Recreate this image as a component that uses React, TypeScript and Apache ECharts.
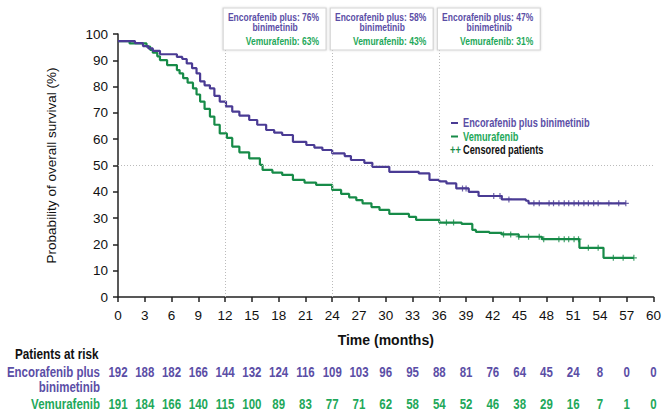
import React, { useEffect, useRef } from "react";
import * as echarts from "echarts";

const PURPLE_LINE = "#4a3b94";
const PURPLE_TEXT = "#5b4ea6";
const GREEN_LINE = "#178b48";
const GREEN_TEXT = "#1ea85a";
const FONT = "'Liberation Sans', Arial, sans-serif";

// Kaplan-Meier steps [month, survival %]
const encoSteps: [number, number][] = [
  [0, 97.3], [1.9, 96.5], [2.8, 95.4], [3.4, 94.5], [3.9, 93.6], [4.7, 92.3], [6.6, 91.3],
  [7.2, 90.5], [7.7, 88.8], [8.3, 87], [8.8, 85], [9.2, 82], [9.7, 80.5], [10.3, 79.3],
  [10.8, 76.5], [11.4, 74.3], [12.1, 72.5], [12.8, 70.5], [13.6, 69], [14.7, 67.3],
  [15.6, 65.5], [16.6, 63.5], [17.5, 62.5], [18.4, 61.6], [19.6, 59], [21.1, 57.8],
  [22.0, 56.8], [22.9, 55.9], [24.0, 54.6], [25.4, 53.6], [26.1, 52.1], [27.6, 51],
  [28.5, 49.5], [30.4, 47.6], [33.7, 47], [34.9, 44.5], [36.0, 44], [36.8, 43.2],
  [37.9, 41.3], [39.3, 40], [40.4, 38.4], [43.0, 37.1], [45.7, 36.6], [46.0, 35.6], [56.9, 35.6],
];
const vemuSteps: [number, number][] = [
  [0, 97.3], [1.3, 96.4], [3.2, 95.2], [3.6, 94], [3.9, 92.9], [4.4, 91.5], [4.7, 90.1],
  [5.5, 88.2], [6.6, 86.3], [6.9, 85], [7.3, 83.2], [7.8, 81.5], [8.4, 79.3], [8.8, 77],
  [9.2, 74.3], [9.7, 71.5], [10.3, 68.6], [10.8, 65.5], [11.4, 62.2], [12.2, 60.5],
  [12.8, 57.2], [13.6, 55], [14.7, 52.7], [15.9, 50.2], [16.2, 48.3], [17.3, 47.3],
  [18.4, 46.4], [19.6, 44.5], [20.9, 43.5], [22.2, 42.6], [24.0, 40.7], [25.0, 39.2],
  [25.9, 37.9], [26.7, 36.8], [27.4, 35.6], [28.4, 34.2], [29.3, 33.1], [30.4, 31.6],
  [32.6, 30.5], [33.4, 29.3], [36.0, 28.3], [38.5, 27.8], [39.7, 25.5], [40.1, 24.8],
  [41.6, 24.4], [43.0, 23.8], [44.9, 22.9], [47.5, 22], [51.7, 18.7], [54.4, 14.9], [57.8, 14.9],
];
const encoCensored = [38.6, 39.0, 42.1, 42.8, 43.8, 46.6, 47.2, 48.3, 48.8, 49.4, 50, 50.5, 51.1, 51.6, 52.2, 52.7, 53.3, 53.8, 55, 56.1, 56.9];
const vemuCensored = [36.8, 37.6, 43.2, 44, 44.9, 46, 47.2, 47.7, 49.4, 50, 50.5, 51.1, 51.6, 52.7, 53.8, 55.5, 56.6, 57.8];

const atRiskMonths = [0, 3, 6, 9, 12, 15, 18, 21, 24, 27, 30, 33, 36, 39, 42, 45, 48, 51, 54, 57, 60];
const encoAtRisk = [192, 188, 182, 166, 144, 132, 124, 116, 109, 103, 96, 95, 88, 81, 76, 64, 45, 24, 8, 0, 0];
const vemuAtRisk = [191, 184, 166, 140, 115, 100, 89, 83, 77, 71, 62, 58, 54, 52, 46, 38, 29, 16, 7, 1, 0];

const landmarkMonths = [12, 24, 36];
const encoLandmark = [76, 58, 47];
const vemuLandmark = [63, 43, 31];

const survivalAt = (steps: [number, number][], t: number) => {
  let v = steps[0][1];
  for (const [m, s] of steps) if (m <= t) v = s;
  return v;
};

const PLUS = "path://M4,0h2v4h4v2h-4v4h-2v-4h-4v-2h4z";

export default function App() {
  const ref = useRef<HTMLDivElement>(null);
  useEffect(() => {
    document.body.style.margin = "0";
    const chart = echarts.init(ref.current!, null, { renderer: "svg" });
    const axisLabel = { color: "#111", fontFamily: FONT, fontSize: 13.5 };
    chart.setOption({
      animation: false,
      grid: { left: 118, right: 9, top: 34, bottom: 115 },
      xAxis: {
        type: "value", min: 0, max: 60, interval: 3, offset: 4,
        name: "Time (months)", nameLocation: "middle", nameGap: 32,
        nameTextStyle: { color: "#111", fontFamily: FONT, fontSize: 14, fontWeight: "bold" },
        axisLine: { lineStyle: { color: "#222", width: 1.5 } },
        axisTick: { lineStyle: { color: "#222", width: 1.5 }, length: 5 },
        axisLabel: { ...axisLabel, margin: 7 },
        splitLine: { show: false },
      },
      yAxis: {
        type: "value", min: 0, max: 100, interval: 10,
        name: "Probability of overall survival (%)", nameLocation: "middle", nameGap: 60,
        nameTextStyle: { color: "#111", fontFamily: FONT, fontSize: 13.5 },
        axisLine: { show: true, lineStyle: { color: "#222", width: 1.5 } },
        axisTick: { show: true, lineStyle: { color: "#222", width: 1.5 }, length: 5 },
        axisLabel: { ...axisLabel, margin: 10 },
        splitLine: { show: false },
      },
      series: [
        {
          type: "line", step: "end", data: encoSteps, showSymbol: false, symbol: "none",
          lineStyle: { color: PURPLE_LINE, width: 2.2 }, z: 3,
          markLine: {
            silent: true, symbol: "none", label: { show: false },
            lineStyle: { color: "#bbb", type: [1, 2], width: 1 },
            data: [{ yAxis: 50 }, ...landmarkMonths.map((m) => ({ xAxis: m }))],
          },
        },
        {
          type: "line", step: "end", data: vemuSteps, showSymbol: false, symbol: "none",
          lineStyle: { color: GREEN_LINE, width: 2.2 }, z: 2,
        },
        {
          type: "scatter", data: encoCensored.map((t) => [t, survivalAt(encoSteps, t)]),
          symbol: PLUS, symbolSize: 6, itemStyle: { color: PURPLE_LINE }, z: 4,
        },
        {
          type: "scatter", data: vemuCensored.map((t) => [t, survivalAt(vemuSteps, t)]),
          symbol: PLUS, symbolSize: 6, itemStyle: { color: GREEN_LINE }, z: 4,
        },
      ],
    });

    const px = (m: number) => chart.convertToPixel({ xAxisIndex: 0 }, m) as number;
    const graphic: any[] = [];
    const txt = (x: number, y: number, sx: number, style: any, z = 5) => ({
      type: "text", x, y, scaleX: sx, z,
      style: { fontFamily: FONT, fontWeight: "bold", verticalAlign: "middle", ...style },
    });

    const BOX_SX = 0.74;
    landmarkMonths.forEach((m, i) => {
      const left = px(m) - 2;
      graphic.push({
        type: "rect", shape: { x: left, y: 8, width: 103, height: 42 },
        style: { fill: "#fff", stroke: "#d4d4d4", lineWidth: 1.2, shadowBlur: 2, shadowColor: "rgba(0,0,0,0.15)" }, z: 10,
      });
      graphic.push(txt(left + 96, 17, BOX_SX, { text: `Encorafenib plus: ${encoLandmark[i]}%`, fill: PURPLE_TEXT, fontSize: 11.5, align: "right" }, 11));
      graphic.push(txt(left + 52, 27.5, BOX_SX, { text: "binimetinib", fill: PURPLE_TEXT, fontSize: 11.5, align: "center" }, 11));
      graphic.push(txt(left + 96, 41, BOX_SX, { text: `Vemurafenib: ${vemuLandmark[i]}%`, fill: GREEN_TEXT, fontSize: 11.5, align: "right" }, 11));
    });

    // legend
    const LEG_SX = 0.77;
    graphic.push({ type: "line", shape: { x1: 451, y1: 123, x2: 458, y2: 123 }, style: { stroke: PURPLE_LINE, lineWidth: 2 } });
    graphic.push(txt(463, 123, LEG_SX, { text: "Encorafenib plus binimetinib", fill: PURPLE_TEXT, fontSize: 12 }));
    graphic.push({ type: "line", shape: { x1: 451, y1: 136.5, x2: 458, y2: 136.5 }, style: { stroke: GREEN_LINE, lineWidth: 2 } });
    graphic.push(txt(463, 136.5, LEG_SX, { text: "Vemurafenib", fill: GREEN_TEXT, fontSize: 12 }));
    graphic.push(txt(450, 150, LEG_SX, { text: "++", fill: GREEN_LINE, fontSize: 12 }));
    graphic.push(txt(463, 150, LEG_SX, { text: "Censored patients", fill: "#111", fontSize: 12 }));

    // at-risk table
    const TAB_SX = 0.82;
    graphic.push(txt(15, 354, 0.84, { text: "Patients at risk", fill: "#111", fontSize: 14 }));
    graphic.push(txt(100, 372, TAB_SX, { text: "Encorafenib plus", fill: PURPLE_TEXT, fontSize: 14, align: "right" }));
    graphic.push(txt(100, 387, TAB_SX, { text: "binimetinib", fill: PURPLE_TEXT, fontSize: 14, align: "right" }));
    graphic.push(txt(100, 404, TAB_SX, { text: "Vemurafenib", fill: GREEN_TEXT, fontSize: 14, align: "right" }));
    atRiskMonths.forEach((m, i) => {
      const x = px(m);
      graphic.push(txt(x, 372, TAB_SX, { text: String(encoAtRisk[i]), fill: PURPLE_TEXT, fontSize: 14, align: "center" }));
      graphic.push(txt(x, 404, TAB_SX, { text: String(vemuAtRisk[i]), fill: GREEN_TEXT, fontSize: 14, align: "center" }));
    });

    chart.setOption({ graphic });
    return () => chart.dispose();
  }, []);
  return <div ref={ref} style={{ width: 664, height: 412 }} />;
}
